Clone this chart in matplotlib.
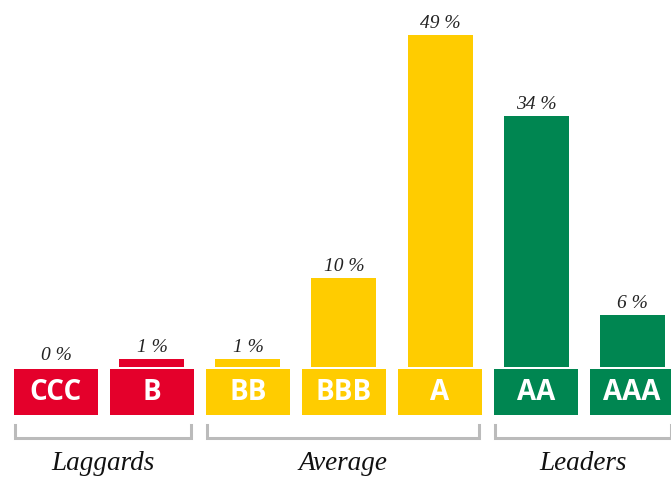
import matplotlib.pyplot as plt
from matplotlib.patches import Rectangle

# ratings, shown values and bar heights
ratings = ["CCC", "B", "BB", "BBB", "A", "AA", "AAA"]
value_labels = ["0 %", "1 %", "1 %", "10 %", "49 %", "34 %", "6 %"]
bar_heights = [0.0, 1.2, 1.2, 13.1, 49.0, 37.0, 7.7]
bar_colors = ["#E4002B", "#E4002B", "#FFCC00", "#FFCC00", "#FFCC00", "#008651", "#008651"]
groups = ["Laggards", "Average", "Leaders"]
group_members = [(0, 1), (2, 4), (5, 6)]

fig = plt.figure(figsize=(6.71, 4.79), dpi=100)
ax = fig.add_axes([0, 0, 1, 1])
ax.set_xlim(-0.583, 6.406)
ax.set_ylim(-16.52, 54.13)
ax.axis("off")

x = list(range(len(ratings)))

# bars
ax.bar(x, bar_heights, width=0.677, color=bar_colors, bottom=0)

# value labels
for xi, h, lab in zip(x, bar_heights, value_labels):
    ax.text(xi, h + 0.45, lab, ha="center", va="bottom", fontsize=14,
            style="italic", family="Liberation Serif", color="#222222")

# rating boxes under the bars
for xi, r, c in zip(x, ratings, bar_colors):
    ax.add_patch(Rectangle((xi - 0.4375, -7.08), 0.875, 6.78, color=c, lw=0))
    ax.text(xi, -3.8, r, ha="center", va="center", fontsize=20,
            fontweight="bold", family="Open Sans", color="white")

# brackets and group names
for g, (a, b) in zip(groups, group_members):
    x0, x1 = a - 0.43, b + 0.41
    ax.plot([x0, x0, x1, x1], [-8.5, -10.5, -10.5, -8.5], color="#BBBBBB",
            lw=2.2, solid_joinstyle="miter")
    ax.text((x0 + x1) / 2, -14.3, g, ha="center", va="center", fontsize=19.5,
            style="italic", family="Liberation Serif", color="#111111")

fig.savefig("out.png", dpi=100)
